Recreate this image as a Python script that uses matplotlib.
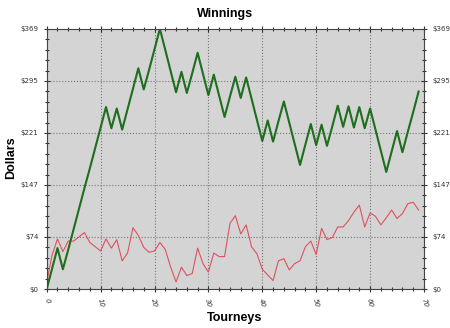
import numpy as np
import matplotlib
matplotlib.use("Agg")
import matplotlib.pyplot as plt
from matplotlib.ticker import MultipleLocator

# cumulative winnings per tourney (green) and the second series (red)
tourneys = list(range(70))
winnings = [0, 29, 58, 28, 56, 85, 114, 143, 171, 200,
            229, 258, 228, 256, 226, 255, 284, 313, 283, 311,
            340, 369, 339, 309, 279, 308, 278, 306, 335, 305,
            275, 304, 274, 244, 273, 301, 271, 300, 270, 240,
            210, 239, 209, 238, 266, 236, 206, 176, 205, 234,
            204, 233, 203, 231, 260, 230, 259, 229, 258, 228,
            256, 226, 196, 166, 195, 224, 194, 223, 251, 280]
other = [10, 48, 71, 53, 68, 68, 74, 80, 66, 60,
         54, 71, 58, 70, 40, 51, 87, 76, 59, 52,
         54, 66, 56, 31, 10, 31, 19, 22, 58, 36,
         24, 51, 46, 46, 93, 104, 78, 91, 60, 50,
         28, 20, 12, 40, 43, 27, 36, 40, 60, 68,
         49, 86, 70, 73, 88, 88, 97, 109, 119, 88,
         108, 103, 91, 101, 112, 100, 107, 121, 123, 112]
ytick_labels = ["$0", "$74", "$147", "$221", "$295", "$369"]
xmax = 70
ymax = 368.75

fig = plt.figure(figsize=(4.5, 3.28), dpi=100)
ax = fig.add_axes([0.1038, 0.1189, 0.8384, 0.7927])
ax.set_facecolor("#d4d4d4")

ax.plot(tourneys, other, color="#e0505e", lw=0.8)
ax.plot(tourneys, winnings, color="#1d6e1d", lw=1.5)

ax.set_xlim(0, xmax)
ax.set_ylim(0, ymax)
yt = np.linspace(0, ymax, 6)
ax.set_yticks(yt)
ax.set_yticklabels(ytick_labels)
ax.set_xticks(range(0, 71, 10))
ax.xaxis.set_minor_locator(MultipleLocator(2))
ax.yaxis.set_minor_locator(MultipleLocator(ymax / 25))
ax.grid(True, which="major", color="#777777", ls=":", lw=0.8)

ax.tick_params(which="both", direction="inout", top=True, right=True,
               labelright=True, colors="#333333", labelsize=5)
ax.tick_params(which="major", length=5, width=0.8)
ax.tick_params(which="minor", length=3.5, width=0.8)
for lab in ax.get_xticklabels():
    lab.set_rotation(-75)
    lab.set_style("italic")
for s in ax.spines.values():
    s.set_color("#444444")
    s.set_linewidth(0.8)

fig.text(0.5, 0.957, "Winnings", ha="center", va="center",
         fontsize=9, fontweight="bold", family="Liberation Sans")
fig.text(0.522, 0.03, "Tourneys", ha="center", va="center",
         fontsize=9, fontweight="bold", family="Liberation Sans")
fig.text(0.024, 0.52, "Dollars", ha="center", va="center", rotation=90,
         fontsize=9, fontweight="bold", family="Liberation Sans")

fig.savefig("out.png", dpi=100)
